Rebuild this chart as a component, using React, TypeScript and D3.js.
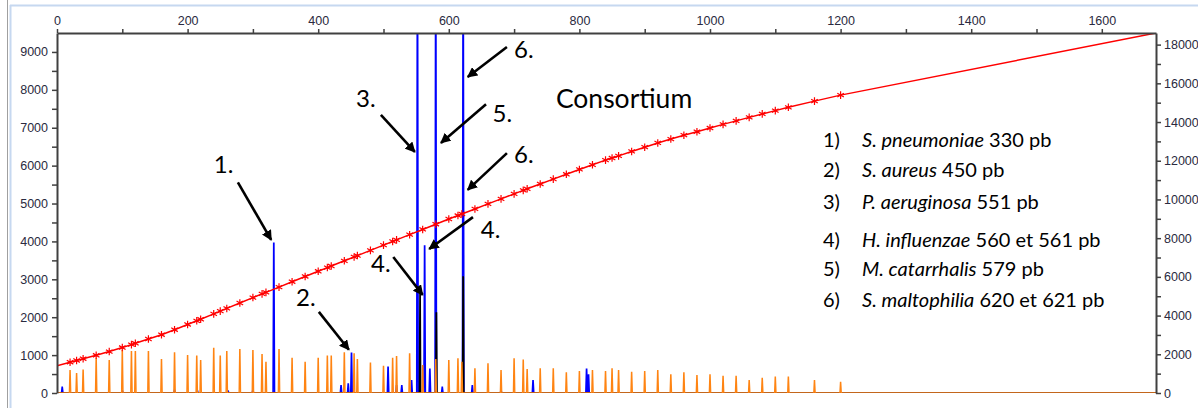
import { useEffect, useRef } from "react";
import * as d3 from "d3";

// size standard peaks (orange trace), bp and height in RFU
const sizeStdBp = [20, 30, 40, 60, 80, 100, 114, 120, 140, 160, 180, 200, 214, 220, 240, 250, 260, 280, 300, 314,
  320, 340, 360, 380, 400, 414, 420, 440, 455, 460, 480, 500, 514, 520, 540, 560, 580, 600, 614, 620,
  640, 660, 680, 700, 714, 720, 740, 760, 780, 800, 820, 840, 850, 860, 880, 900, 920, 940, 960, 980,
  1000, 1020, 1040, 1060, 1080, 1100, 1120, 1160, 1200];
const sizeStdRfu = [590, 510, 600, 900, 855, 1120, 1090, 1090, 1090, 880, 1055, 985, 970, 855, 1180, 970, 1090, 1145, 1120, 1010,
  810, 1145, 915, 810, 915, 970, 970, 1055, 1030, 880, 790, 705, 915, 960, 1030, 720, 880, 855, 900, 810,
  635, 765, 590, 900, 870, 615, 635, 635, 530, 565, 590, 565, 635, 590, 545, 565, 590, 475, 530, 460,
  475, 440, 440, 325, 385, 415, 415, 325, 280];
// sizing curve (red, right axis) at each size standard peak
const sizingScan = [1590, 1680, 1770, 1950, 2140, 2350, 2500, 2570, 2790, 3010, 3270, 3540, 3730, 3810, 4090, 4230, 4370, 4650, 4930, 5120,
  5200, 5470, 5750, 6020, 6290, 6480, 6560, 6830, 7030, 7100, 7370, 7640, 7830, 7910, 8180, 8450, 8720, 8990, 9170, 9250,
  9510, 9770, 10030, 10290, 10470, 10550, 10800, 11050, 11300, 11550, 11790, 12030, 12140, 12250, 12480, 12700, 12920, 13120, 13320, 13500,
  13690, 13880, 14060, 14240, 14420, 14590, 14760, 15080, 15390];
const curveStart = [0, 1410]; // bp, scan
const curveEnd = [1683, 18600];

// sample peaks (blue trace)
const sampleBp = [8, 100, 180, 215, 262, 300, 332, 435, 446, 451, 507, 520, 528, 543, 552, 563, 571, 580, 590, 622, 636, 680, 729, 811, 814];
const sampleRfu = [150, 60, 70, 60, 50, 70, 3950, 190, 240, 1050, 680, 190, 190, 325, 12000, 3880, 630, 12000, 150, 12000, 190, 60, 325, 630, 475];
// black trace
const blackBp = [556, 581, 622];
const blackRfu = [2640, 2110, 3060];

const X_MAX = 1683;
const Y_LEFT_MAX = 9500;
const Y_RIGHT_MAX = 18600;

const annotations = [
  { label: "1.", text: [240, 5800], from: [277, 5560], to: [328, 4040] },
  { label: "2.", text: [366, 2300], from: [401, 2140], to: [447, 1140] },
  { label: "3.", text: [458, 7550], from: [496, 7340], to: [548, 6360] },
  { label: "5.", text: [667, 7150], from: [657, 7620], to: [588, 6600] },
  { label: "6.", text: [700, 8840], from: [689, 9130], to: [629, 8340] },
  { label: "6.", text: [700, 6070], from: [689, 6330], to: [629, 5360] },
  { label: "4.", text: [649, 4100], from: [637, 4640], to: [570, 3800] },
  { label: "4.", text: [481, 3200], from: [515, 3590], to: [560, 2590] },
];

const legendNum = ["1)", "2)", "3)", "4)", "5)", "6)"];
const legendSpecies = ["S. pneumoniae", "S. aureus", "P. aeruginosa", "H. influenzae", "M. catarrhalis", "S. maltophilia"];
const legendSize = ["330 pb", "450 pb", "551 pb", "560 et 561 pb", "579 pb", "620 et 621 pb"];

function trace(bps: number[], vals: number[], half: number) {
  const pts: [number, number][] = [[0, 0]];
  const idx = d3.range(bps.length).sort((a, b) => bps[a] - bps[b]);
  idx.forEach(i => {
    pts.push([bps[i] - half, 0], [bps[i] - 0.2, vals[i]], [bps[i] + 0.2, vals[i]], [bps[i] + half, 0]);
  });
  pts.push([X_MAX, 0]);
  return pts;
}

const App = () => {
  const svgRef = useRef<SVGSVGElement>(null);

  useEffect(() => {
    const svg = d3.select(svgRef.current);
    svg.selectAll("*").remove();

    const left = 57, right = 1156, top = 33, bottom = 393;
    const x = d3.scaleLinear().domain([0, X_MAX]).range([left, right]);
    const yL = d3.scaleLinear().domain([0, Y_LEFT_MAX]).range([bottom, top]);
    const yR = d3.scaleLinear().domain([0, Y_RIGHT_MAX]).range([bottom, top]);

    // window frame
    svg.append("line").attr("x1", 10).attr("x2", 1198).attr("y1", 5.5).attr("y2", 5.5)
      .attr("stroke", "#c6d8f0").attr("stroke-width", 2);
    svg.append("line").attr("x1", 7.5).attr("x2", 7.5).attr("y1", 0).attr("y2", 408)
      .attr("stroke", "#a0a0a0").attr("stroke-width", 1);
    svg.append("line").attr("x1", 10.5).attr("x2", 10.5).attr("y1", 5).attr("y2", 408)
      .attr("stroke", "#c6d8f0").attr("stroke-width", 2);

    svg.append("defs").append("clipPath").attr("id", "plot")
      .append("rect").attr("x", left).attr("y", top).attr("width", right - left).attr("height", bottom - top);

    // arrow head
    svg.select("defs").append("marker")
      .attr("id", "head").attr("viewBox", "0 0 10 10").attr("refX", 9).attr("refY", 5)
      .attr("markerWidth", 4).attr("markerHeight", 4).attr("orient", "auto")
      .append("path").attr("d", "M0,0L10,5L0,10Z").attr("fill", "#000");

    const plot = svg.append("g").attr("clip-path", "url(#plot)");
    const lineL = d3.line<[number, number]>().x(d => x(d[0])).y(d => yL(d[1]));

    plot.append("path").datum(trace(sampleBp, sampleRfu, 1.2))
      .attr("fill", "none").attr("stroke", "#0000ff").attr("stroke-width", 1.5).attr("d", lineL);
    plot.append("path").datum(trace(blackBp, blackRfu, 1))
      .attr("fill", "none").attr("stroke", "#000").attr("stroke-width", 1.5).attr("d", lineL);
    plot.append("path").datum(trace(sizeStdBp, sizeStdRfu, 1.1))
      .attr("fill", "none").attr("stroke", "#ff8412").attr("stroke-width", 1.3).attr("d", lineL);

    // sizing curve
    const curve: [number, number][] = [[curveStart[0], 0], [curveStart[0], curveStart[1]]];
    sizeStdBp.forEach((b, i) => curve.push([b, sizingScan[i]]));
    curve.push([curveEnd[0], curveEnd[1]]);
    plot.append("path").datum(curve)
      .attr("fill", "none").attr("stroke", "#ff0000").attr("stroke-width", 1.5)
      .attr("d", d3.line<[number, number]>().x(d => x(d[0])).y(d => yR(d[1])));
    const star = d3.symbol().type(d3.symbolAsterisk).size(40);
    plot.selectAll(".mk").data(sizeStdBp).join("path")
      .attr("transform", (b, i) => `translate(${x(b)},${yR(sizingScan[i])})`)
      .attr("d", star()).attr("fill", "none").attr("stroke", "#ff0000").attr("stroke-width", 1.2);

    // axes
    const axisColor = "#404040";
    const styleAxis = (g: any) => {
      g.select(".domain").attr("stroke", axisColor).attr("stroke-width", 2);
      g.selectAll(".tick line").attr("stroke", axisColor).attr("stroke-width", 1.5);
      g.selectAll(".tick text").attr("fill", "#2a2a40").style("font-family", "'Liberation Sans', Arial, sans-serif").style("font-size", "12.5px");
    };
    const fmtEvery = (n: number) => (d: any) => (d % n === 0 ? String(d) : "");

    svg.append("g").attr("transform", `translate(0,${top})`)
      .call(d3.axisTop(x).tickValues(d3.range(0, 1601, 100)).tickSize(4).tickSizeOuter(0).tickPadding(4).tickFormat(fmtEvery(200)))
      .call(styleAxis);
    svg.append("g").attr("transform", `translate(${left},0)`)
      .call(d3.axisLeft(yL).tickValues(d3.range(0, 9001, 500)).tickSize(5).tickSizeOuter(0).tickPadding(4).tickFormat(fmtEvery(1000)))
      .call(styleAxis);
    svg.append("g").attr("transform", `translate(${right},0)`)
      .call(d3.axisRight(yR).tickValues(d3.range(0, 18001, 1000)).tickSize(5).tickSizeOuter(0).tickPadding(3).tickFormat(fmtEvery(2000)))
      .call(styleAxis);

    // annotations
    const font = "Lato, 'Open Sans', sans-serif";
    annotations.forEach(a => {
      svg.append("line")
        .attr("x1", x(a.from[0])).attr("y1", yL(a.from[1]))
        .attr("x2", x(a.to[0])).attr("y2", yL(a.to[1]))
        .attr("stroke", "#000").attr("stroke-width", 2.6).attr("marker-end", "url(#head)");
      svg.append("text").attr("x", x(a.text[0])).attr("y", yL(a.text[1]))
        .style("font-family", font).style("font-size", "24px").attr("fill", "#000").text(a.label);
    });
    svg.append("text").attr("x", x(764)).attr("y", yL(7520))
      .style("font-family", font).style("font-size", "26.5px").attr("fill", "#000").text("Consortium");

    // legend
    const rowY = [147, 177, 209, 247, 276, 307];
    legendNum.forEach((n, i) => {
      svg.append("text").attr("x", 823).attr("y", rowY[i])
        .style("font-family", font).style("font-size", "20px").text(n);
      const t = svg.append("text").attr("x", 862).attr("y", rowY[i])
        .style("font-family", font).style("font-size", "20px");
      t.append("tspan").style("font-style", "italic").text(legendSpecies[i]);
      t.append("tspan").text(" " + legendSize[i]);
    });
  }, []);

  return (
    <svg ref={svgRef} width={1198} height={408}
      style={{ position: "absolute", left: 0, top: 0, background: "#fff" }} />
  );
};

export default App;
